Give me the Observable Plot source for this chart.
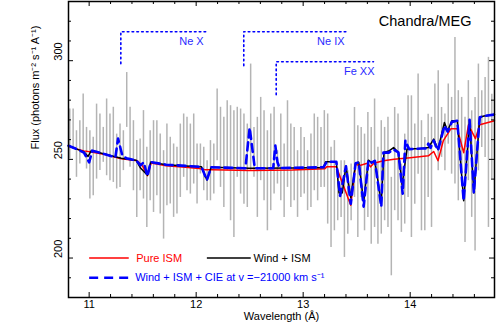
<!DOCTYPE html>
<html><head><meta charset="utf-8">
<script src="https://cdn.jsdelivr.net/npm/d3@7"></script>
<script src="https://cdn.jsdelivr.net/npm/@observablehq/plot@0.6"></script>
<style>html,body{margin:0;padding:0;background:#fff}svg{display:block}</style>
</head><body><div id="chart"></div>
<script>
// Data binning grid of the MEG spectrum (bin centres, Angstrom)
const binStart = 10.819, binWidth = 0.0313;
// error-bar extents per bin (photons m^-2 s^-1 A^-1)
const barHigh = [275.5,275.5,264.5,269.6,283.1,266.2,264.5,261.2,278.0,273.0,266.2,280.6,273.0,276.4,262.8,267.9,264.5,294.0,276.4,269.6,
259.5,260.3,274.7,256.1,264.5,269.6,269.6,262.8,254.4,267.9,261.2,257.8,256.1,267.9,273.0,271.3,267.9,273.0,257.8,257.8,
256.1,249.3,259.5,257.8,285.6,276.4,271.3,279.7,277.2,274.7,276.4,275.5,273.0,267.9,298.3,266.2,271.3,281.4,274.7,264.5,
273.0,276.4,254.4,273.0,257.8,279.7,267.9,266.2,254.4,266.2,261.1,254.4,262.8,273.0,271.3,266.2,274.7,273.0,256.1,259.5,
244.2,249.3,249.3,244.2,247.6,276.3,267.0,266.2,262.8,273.8,266.2,280.6,256.1,269.6,266.2,271.3,240.9,276.3,273.0,247.6,
262.8,282.2,282.2,267.9,293.2,269.6,261.1,272.9,271.3,288.2,294.9,276.3,273.0,288.2,281.4,311.8,284.8,281.4,271.3,289.9,
274.6,281.4,298.3,284.8,291.5,301.7,283.0];
const barLow = [250.2,255.2,240.9,247.6,253.6,245.1,229.9,231.6,240.0,244.3,248.5,241.7,239.2,238.3,235.0,235.8,244.3,266.2,246.0,234.1,
220.6,234.1,229.9,215.5,229.0,223.1,231.6,222.3,209.6,226.5,227.4,220.6,222.3,230.7,240.9,234.1,232.4,237.5,227.4,242.6,
234.1,229.0,229.0,232.4,249.3,235.8,225.6,244.2,218.9,210.4,240.9,232.4,227.3,225.6,244.2,240.9,220.6,239.2,229.0,213.8,
224.0,232.4,237.5,229.0,220.6,235.8,225.6,229.0,220.6,230.7,232.4,224.0,225.6,234.1,229.0,235.8,235.8,217.2,205.4,213.8,
218.9,220.6,200.3,212.1,218.9,230.7,210.4,230.7,213.8,220.6,207.0,215.5,207.0,212.1,218.9,215.5,191.0,224.0,218.9,213.0,
217.2,230.7,210.4,227.3,242.5,213.8,213.8,230.7,215.5,256.0,244.2,251.0,244.2,257.7,242.5,237.5,229.0,240.9,207.9,239.2,
220.6,203.6,244.2,256.0,251.0,215.5,240.0];

// Model: Pure ISM
const ismWave = [10.807,10.88,10.95,11.02,11.15,11.30,11.45,11.50,11.545,11.58,11.72,11.90,12.03,12.08,12.15,12.50,12.90,13.20,13.22,13.31,
13.445,13.49,13.52,13.60,13.63,13.66,13.75,13.85,14.00,14.17,14.22,14.26,14.31,14.38,14.44,14.50,14.545,14.61,14.65,14.788];
const ismFlux = [256.9,255.3,254.3,253.7,252.4,250.3,249.3,246.5,241.7,248.2,246.8,246.0,245.4,244.8,244.8,244.4,244.6,245.2,246.2,246.2,
226.8,247.8,246.8,248.0,246.2,248.0,249.3,250.0,250.8,251.8,254.0,249.3,259.5,265.5,265.5,253.4,267.5,260.5,267.5,269.6];

// Model: Wind + ISM
const windWave = [10.807,10.88,10.95,10.99,11.02,11.15,11.30,11.44,11.48,11.545,11.575,11.72,11.90,12.05,12.10,12.14,12.50,12.90,13.19,13.21,
13.31,13.335,13.365,13.40,13.445,13.49,13.52,13.565,13.61,13.64,13.67,13.73,13.755,13.80,13.845,13.89,13.925,13.97,14.10,14.17,
14.22,14.26,14.32,14.35,14.39,14.44,14.50,14.555,14.595,14.65,14.69,14.788];
const windFlux = [256.9,255.3,253.8,251.5,254.5,252.6,250.6,249.5,245.6,242.0,248.6,247.3,246.7,246.2,239.5,246.0,245.5,245.6,245.9,248.8,
248.8,233.0,233.0,246.5,230.5,248.0,248.5,228.5,249.6,248.3,249.3,228.0,253.5,254.2,256.0,253.5,237.0,255.2,255.5,256.0,
260.3,255.0,268.7,264.5,269.6,269.6,229.0,270.0,233.0,271.3,272.0,272.7];

// Model: Wind + ISM + CIE at v = -21000 km/s
const cieWave = [10.807,10.88,10.95,11.00,11.03,11.15,11.245,11.27,11.31,11.35,11.44,11.48,11.51,11.545,11.575,11.72,11.90,12.05,12.10,12.14,
12.46,12.50,12.548,12.72,12.74,12.76,12.78,13.19,13.22,13.31,13.345,13.40,13.445,13.49,13.52,13.565,13.61,13.64,13.67,13.73,
13.75,13.80,13.845,13.89,13.93,13.955,13.99,14.10,14.15,14.17,14.19,14.22,14.26,14.32,14.35,14.39,14.44,14.50,14.555,14.595,
14.65,14.69,14.788];
const cieFlux = [256.9,255.3,253.5,248.5,254.4,252.6,251.0,260.5,252.0,250.5,249.5,247.0,248.5,241.5,248.6,247.3,246.7,246.2,239.5,246.0,
245.5,266.0,245.5,245.5,257.0,248.5,245.6,246.0,248.8,248.8,231.5,246.5,227.5,248.0,248.5,226.0,249.6,248.3,249.3,226.0,
253.4,253.4,255.0,253.5,232.6,259.5,255.2,255.5,255.5,258.0,255.8,259.5,254.5,267.0,264.0,269.0,269.6,229.0,270.0,233.0,
271.3,272.0,272.7];

// Line identifications (blueshifted positions)
const ionNames = ["Ne X", "Ne IX", "Fe XX"];
const ionWave = [11.296, 12.445, 12.748];
const ionEnd = [12.106, 13.414, 13.657];
const ionTop = [314.7, 314.7, 299.5];
const ionBottom = [298.5, 297.5, 282.8];
const ionLabelWave = [12.07, 13.387, 13.667];
const ionLabelFlux = [309.6, 309.6, 294.6];

// Tick values and labels
const xMajor = [11, 12, 13, 14];
const xMinor = [11.2,11.4,11.6,11.8,12.2,12.4,12.6,12.8,13.2,13.4,13.6,13.8,14.2,14.4,14.6];
const yMajor = [200, 250, 300];
const yMinor = [190,210,220,230,240,260,270,280,290,310,320];
const xTitle = "Wavelength (Å)";
const yTitle = "Flux (photons m⁻² s⁻¹ A⁻¹)";
const instrument = "Chandra/MEG";

// Legend entries (position in data units)
const legendNames = ["Pure ISM", "Wind + ISM", "Wind + ISM + CIE at v =−21000 km s⁻¹"];
const legendX1 = [11.0, 12.1, 11.0];
const legendX2 = [11.37, 12.51, 11.41];
const legendTextX = [11.44, 12.535, 11.43];
const legendY = [200, 200, 190];

const RED = "#ff0000", BLACK = "#000000", BLUE = "#0000ff", BLUETXT = "#2a2aff", GRAY = "#b4b4b4";
const legendColors = [RED, BLACK, BLUE];
const legendDash = [null, null, "9,6"];
const legendWidth = [1.5, 1.5, 2.6];

const bars = barHigh.map((h, i) => ({w: binStart + i * binWidth, hi: h, lo: barLow[i]}));
const ism = ismWave.map((w, i) => ({w, f: ismFlux[i]}));
const wind = windWave.map((w, i) => ({w, f: windFlux[i]}));
const cie = cieWave.map((w, i) => ({w, f: cieFlux[i]}));
const brackets = ionNames.flatMap((n, i) => [
  {ion: n, w: ionWave[i], f: ionBottom[i]},
  {ion: n, w: ionWave[i], f: ionTop[i]},
  {ion: n, w: ionEnd[i], f: ionTop[i]}
]);
const ionLabels = ionNames.map((n, i) => ({n, w: ionLabelWave[i], f: ionLabelFlux[i]}));
const legend = legendNames.map((n, i) => ({n, x1: legendX1[i], x2: legendX2[i], tx: legendTextX[i], y: legendY[i], c: legendColors[i]}));

const W = 496, H = 327, mL = 68, mR = 2, mT = 1, mB = 30;
const plotH = H - mT - mB, plotW = W - mL - mR;
const FONT = "'Liberation Sans', Arial, Helvetica, sans-serif";

const chart = Plot.plot({
  width: W, height: H,
  marginLeft: mL, marginRight: mR, marginTop: mT, marginBottom: mB,
  x: {domain: [10.807, 14.788], axis: null},
  y: {domain: [180, 330], axis: null},
  style: {fontFamily: FONT, fontSize: "11px", background: "#fff", color: "#000"},
  marks: [
    Plot.ruleX(bars, {x: "w", y1: "lo", y2: "hi", stroke: GRAY, strokeWidth: 1.5}),
    Plot.line(ism, {x: "w", y: "f", stroke: RED, strokeWidth: 1.5}),
    Plot.line(wind, {x: "w", y: "f", stroke: BLACK, strokeWidth: 1.5}),
    Plot.line(cie, {x: "w", y: "f", stroke: BLUE, strokeWidth: 2.6, strokeDasharray: "8,5"}),
    Plot.line(brackets, {x: "w", y: "f", z: "ion", stroke: BLUE, strokeWidth: 1.6, strokeDasharray: "1.6,3.2"}),
    Plot.text(ionLabels, {x: "w", y: "f", text: "n", textAnchor: "end", fill: BLUETXT, fontSize: 11}),
    Plot.text([instrument], {x: 14.573, y: 319.8, text: d => d, textAnchor: "end", fontSize: 14.5}),
    // legend
    ...legendNames.map((n, i) => Plot.link([legend[i]], {x1: "x1", x2: "x2", y1: "y", y2: "y", stroke: legendColors[i], strokeWidth: legendWidth[i], strokeDasharray: legendDash[i]})),
    Plot.text(legend, {x: "tx", y: "y", text: "n", fill: "c", textAnchor: "start", fontSize: 11}),
    // frame and inward ticks on all sides
    Plot.frame({stroke: BLACK, strokeWidth: 1.5}),
    Plot.ruleX(xMajor, {x: d => d, insetTop: plotH - 5, stroke: BLACK}),
    Plot.ruleX(xMajor, {x: d => d, insetBottom: plotH - 5, stroke: BLACK}),
    Plot.ruleX(xMinor, {x: d => d, insetTop: plotH - 3, stroke: BLACK}),
    Plot.ruleX(xMinor, {x: d => d, insetBottom: plotH - 3, stroke: BLACK}),
    Plot.ruleY(yMajor, {y: d => d, insetRight: plotW - 5, stroke: BLACK}),
    Plot.ruleY(yMajor, {y: d => d, insetLeft: plotW - 5, stroke: BLACK}),
    Plot.ruleY(yMinor, {y: d => d, insetRight: plotW - 3, stroke: BLACK}),
    Plot.ruleY(yMinor, {y: d => d, insetLeft: plotW - 3, stroke: BLACK}),
    // tick labels and titles
    Plot.text(xMajor, {x: d => d, text: d => String(d), frameAnchor: "bottom", dy: 10, fontSize: 11}),
    Plot.text(yMajor, {y: d => d, text: d => String(d), frameAnchor: "left", dx: -10, rotate: -90, fontSize: 11}),
    Plot.text([xTitle], {text: d => d, frameAnchor: "bottom", dy: 22, fontSize: 11}),
    Plot.text([yTitle], {text: d => d, frameAnchor: "left", dx: -33, rotate: -90, fontSize: 11})
  ]
});
document.getElementById("chart").appendChild(chart);
</script></body></html>
